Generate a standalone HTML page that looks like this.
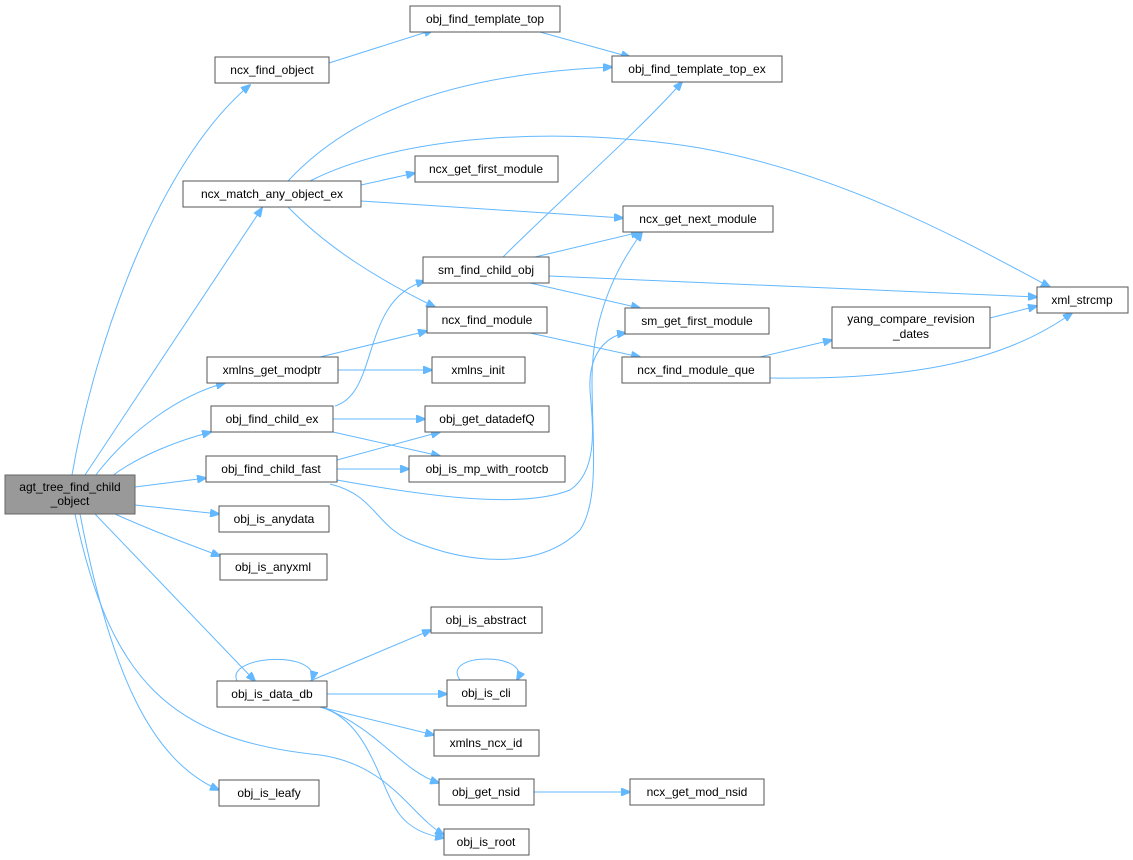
<!DOCTYPE html>
<html><head><meta charset="utf-8"><style>
html,body{margin:0;padding:0;background:#fff;}
svg{display:block;}
text{font-family:"Liberation Sans",Arial,sans-serif;font-size:12px;fill:#000;}
.n{fill:#fff;stroke:#555;stroke-width:1;}
.e{fill:none;stroke:#63b8ff;stroke-width:1;}
</style></head><body>
<svg width="1133" height="860" viewBox="0 0 1133 860" xmlns="http://www.w3.org/2000/svg">
<defs><marker id="a" markerWidth="10" markerHeight="8" refX="9" refY="4" orient="auto" markerUnits="userSpaceOnUse"><path d="M0,0 L10,4 L0,8 Z" fill="#63b8ff" stroke="#63b8ff"/></marker></defs>
<g class="edges">
<path class="e" marker-end="url(#a)" d="M72,475 C95,340 160,160 250,85"/>
<path class="e" marker-end="url(#a)" d="M85,475 L262,208"/>
<path class="e" marker-end="url(#a)" d="M95,476 C130,430 180,395 225,383"/>
<path class="e" marker-end="url(#a)" d="M112,476 C140,455 180,440 211,432"/>
<path class="e" marker-end="url(#a)" d="M135,487 L206,478"/>
<path class="e" marker-end="url(#a)" d="M135,505 L219,514"/>
<path class="e" marker-end="url(#a)" d="M115,514 C150,530 190,545 220,556"/>
<path class="e" marker-end="url(#a)" d="M95,514 L255,681"/>
<path class="e" marker-end="url(#a)" d="M80,514 C110,670 150,760 219,790"/>
<path class="e" marker-end="url(#a)" d="M75,514 C110,680 170,740 320,755 C390,765 410,815 444,835"/>
<path class="e" marker-end="url(#a)" d="M329,63 L433,30"/>
<path class="e" marker-end="url(#a)" d="M540,32 L630,57"/>
<path class="e" marker-end="url(#a)" d="M288,181 C340,125 430,75 612,67"/>
<path class="e" marker-end="url(#a)" d="M310,181 C400,135 560,125 700,148 C850,175 980,250 1050,287"/>
<path class="e" marker-end="url(#a)" d="M361,185 L415,173"/>
<path class="e" marker-end="url(#a)" d="M361,201 L623,218"/>
<path class="e" marker-end="url(#a)" d="M288,207 C330,250 380,280 435,307"/>
<path class="e" marker-end="url(#a)" d="M503,257 C560,200 640,130 682,82"/>
<path class="e" marker-end="url(#a)" d="M535,257 L640,232"/>
<path class="e" marker-end="url(#a)" d="M549,276 L1037,297"/>
<path class="e" marker-end="url(#a)" d="M530,283 L640,308"/>
<path class="e" marker-end="url(#a)" d="M530,333 L640,357"/>
<path class="e" marker-end="url(#a)" d="M760,357 L832,340"/>
<path class="e" marker-end="url(#a)" d="M770,378 C900,380 1000,365 1072,313"/>
<path class="e" marker-end="url(#a)" d="M990,318 L1037,306"/>
<path class="e" marker-end="url(#a)" d="M320,357 L427,331"/>
<path class="e" marker-end="url(#a)" d="M338,370 L432,370"/>
<path class="e" marker-end="url(#a)" d="M335,406 C380,392 360,300 425,281"/>
<path class="e" marker-end="url(#a)" d="M333,419 L425,419"/>
<path class="e" marker-end="url(#a)" d="M333,432 L440,456"/>
<path class="e" marker-end="url(#a)" d="M337,460 L440,432"/>
<path class="e" marker-end="url(#a)" d="M337,469 L409,469"/>
<path class="e" marker-end="url(#a)" d="M330,484 C375,495 375,525 410,540 C470,565 540,570 580,530 C600,500 592,440 592,380 C592,300 630,250 642,232"/>
<path class="e" marker-end="url(#a)" d="M337,480 C420,495 520,510 570,490 C600,470 592,420 590,390 C588,350 610,335 626,333"/>
<path class="e" marker-end="url(#a)" d="M237,681 C225,655 320,650 312,680"/>
<path class="e" marker-end="url(#a)" d="M310,681 L431,630"/>
<path class="e" marker-end="url(#a)" d="M327,694 L447,694"/>
<path class="e" marker-end="url(#a)" d="M320,707 L434,735"/>
<path class="e" marker-end="url(#a)" d="M322,707 C380,730 400,770 439,783"/>
<path class="e" marker-end="url(#a)" d="M320,707 C370,720 380,790 400,815 C410,828 425,835 444,838"/>
<path class="e" marker-end="url(#a)" d="M460,680 C440,652 532,652 517,680"/>
<path class="e" marker-end="url(#a)" d="M534,792 L630,792"/>
</g>
<g>
<rect x="5" y="475" width="130" height="39" fill="#999" stroke="#666"/>
<text x="70" y="491" text-anchor="middle">agt_tree_find_child</text>
<text x="70" y="505" text-anchor="middle">_object</text>

<rect class="n" x="215" y="57" width="114" height="26"/><text x="272" y="74" text-anchor="middle">ncx_find_object</text>
<rect class="n" x="410" y="6" width="150" height="26"/><text x="485" y="23" text-anchor="middle">obj_find_template_top</text>
<rect class="n" x="612" y="56" width="170" height="26"/><text x="697" y="73" text-anchor="middle">obj_find_template_top_ex</text>
<rect class="n" x="183" y="181" width="178" height="26"/><text x="272" y="198" text-anchor="middle">ncx_match_any_object_ex</text>
<rect class="n" x="415" y="156" width="143" height="26"/><text x="486" y="173" text-anchor="middle">ncx_get_first_module</text>
<rect class="n" x="623" y="206" width="150" height="26"/><text x="698" y="223" text-anchor="middle">ncx_get_next_module</text>
<rect class="n" x="423" y="257" width="126" height="26"/><text x="486" y="274" text-anchor="middle">sm_find_child_obj</text>
<rect class="n" x="1037" y="287" width="91" height="26"/><text x="1082" y="304" text-anchor="middle">xml_strcmp</text>
<rect class="n" x="427" y="307" width="120" height="26"/><text x="487" y="324" text-anchor="middle">ncx_find_module</text>
<rect class="n" x="625" y="308" width="144" height="26"/><text x="697" y="325" text-anchor="middle">sm_get_first_module</text>
<rect class="n" x="832" y="307" width="158" height="41"/><text x="911" y="323" text-anchor="middle">yang_compare_revision</text><text x="911" y="338" text-anchor="middle">_dates</text>
<rect class="n" x="207" y="357" width="131" height="26"/><text x="272" y="374" text-anchor="middle">xmlns_get_modptr</text>
<rect class="n" x="432" y="357" width="93" height="26"/><text x="478" y="374" text-anchor="middle">xmlns_init</text>
<rect class="n" x="622" y="357" width="148" height="26"/><text x="696" y="374" text-anchor="middle">ncx_find_module_que</text>
<rect class="n" x="211" y="406" width="122" height="26"/><text x="272" y="423" text-anchor="middle">obj_find_child_ex</text>
<rect class="n" x="425" y="406" width="124" height="26"/><text x="487" y="423" text-anchor="middle">obj_get_datadefQ</text>
<rect class="n" x="206" y="456" width="131" height="26"/><text x="271" y="473" text-anchor="middle">obj_find_child_fast</text>
<rect class="n" x="409" y="456" width="156" height="26"/><text x="487" y="473" text-anchor="middle">obj_is_mp_with_rootcb</text>
<rect class="n" x="219" y="506" width="110" height="26"/><text x="274" y="523" text-anchor="middle">obj_is_anydata</text>
<rect class="n" x="220" y="554" width="107" height="26"/><text x="273" y="571" text-anchor="middle">obj_is_anyxml</text>
<rect class="n" x="431" y="607" width="111" height="26"/><text x="486" y="624" text-anchor="middle">obj_is_abstract</text>
<rect class="n" x="217" y="681" width="110" height="26"/><text x="272" y="698" text-anchor="middle">obj_is_data_db</text>
<rect class="n" x="447" y="680" width="79" height="26"/><text x="486" y="697" text-anchor="middle">obj_is_cli</text>
<rect class="n" x="434" y="730" width="105" height="26"/><text x="486" y="747" text-anchor="middle">xmlns_ncx_id</text>
<rect class="n" x="439" y="779" width="95" height="26"/><text x="486" y="796" text-anchor="middle">obj_get_nsid</text>
<rect class="n" x="630" y="779" width="134" height="26"/><text x="697" y="796" text-anchor="middle">ncx_get_mod_nsid</text>
<rect class="n" x="219" y="780" width="100" height="26"/><text x="269" y="797" text-anchor="middle">obj_is_leafy</text>
<rect class="n" x="444" y="829" width="85" height="26"/><text x="486" y="846" text-anchor="middle">obj_is_root</text>
</g>
</svg>
</body></html>
